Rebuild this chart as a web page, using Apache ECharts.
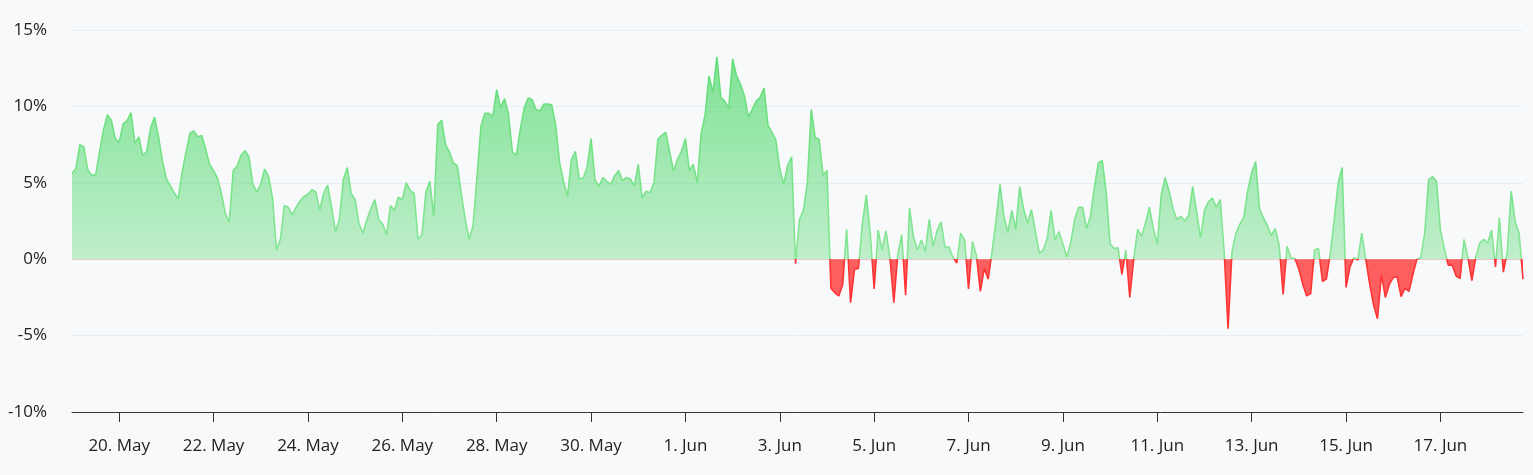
<!DOCTYPE html>
<html>
<head>
<meta charset="utf-8">
<script src="https://cdn.jsdelivr.net/npm/echarts@6/dist/echarts.min.js"></script>
<style>
  html, body { margin: 0; padding: 0; background: #f8f9fb; }
  #chart { width: 1533px; height: 475px; }
</style>
</head>
<body>
<div id="chart"></div>
<script>
// first sample: 19 May, 00:00 UTC, one sample every 2 hours
const startDate = '2024-05-19';
const stepHours = 2;

// change in % per sample, one row per day
const changePct = [
  5.6, 5.95, 7.5, 7.35, 5.85, 5.5, 5.5, 7.0, 8.45, 9.45, 9.1, 7.9,
  7.65, 8.85, 9.05, 9.6, 7.6, 8.0, 6.8, 7.05, 8.6, 9.3, 8.0, 6.45,
  5.25, 4.8, 4.35, 3.95, 5.7, 7.0, 8.25, 8.4, 8.0, 8.1, 7.2, 6.2,
  5.8, 5.3, 4.3, 3.0, 2.4, 5.8, 6.1, 6.8, 7.1, 6.7, 4.9, 4.4,
  4.9, 5.9, 5.4, 4.0, 0.6, 1.3, 3.5, 3.4, 2.9, 3.4, 3.8, 4.1,
  4.25, 4.55, 4.4, 3.2, 4.3, 4.85, 3.4, 1.8, 2.6, 5.2, 6.0, 4.3,
  3.9, 2.3, 1.7, 2.6, 3.3, 3.9, 2.6, 2.3, 1.6, 3.5, 3.2, 4.05,
  3.9, 5.0, 4.5, 4.3, 1.3, 1.6, 4.4, 5.1, 2.8, 8.8, 9.1, 7.5,
  7.0, 6.3, 6.1, 4.3, 2.6, 1.3, 2.2, 5.4, 8.7, 9.55, 9.55, 9.35,
  11.1, 9.9, 10.5, 9.5, 7.0, 6.8, 8.5, 9.9, 10.55, 10.45, 9.8, 9.7,
  10.15, 10.15, 10.1, 8.8, 6.3, 5.1, 4.1, 6.5, 7.05, 5.25, 5.3, 6.0,
  7.9, 5.2, 4.75, 5.35, 5.1, 4.9, 5.45, 5.8, 5.15, 5.35, 5.25, 4.8,
  6.2, 4.0, 4.45, 4.35, 5.0, 7.85, 8.1, 8.3, 7.0, 5.75, 6.55, 7.05,
  7.9, 5.8, 6.2, 5.0, 8.2, 9.45, 12.0, 10.9, 13.25, 10.6, 10.35, 9.85,
  13.1, 12.0, 11.45, 10.7, 9.3, 9.8, 10.35, 10.6, 11.2, 8.75, 8.3, 7.8,
  5.9, 4.9, 6.15, 6.7, -0.3, 2.6, 3.2, 5.0, 9.8, 7.95, 7.85, 5.5,
  5.8, -1.9, -2.2, -2.4, -1.65, 1.95, -2.85, -0.65, -0.6, 2.35, 4.2, 1.7,
  -1.95, 1.9, 0.6, 1.85, 0.1, -2.85, 0.3, 1.6, -2.35, 3.35, 1.45, 0.6,
  1.25, 0.5, 2.6, 0.85, 1.85, 2.45, 0.8, 0.8, 0.15, -0.25, 1.7, 1.25,
  -1.95, 1.15, 0.25, -2.1, -0.6, -1.3, 0.55, 2.55, 4.9, 2.8, 1.75, 3.2,
  1.95, 4.75, 3.3, 2.35, 3.25, 1.8, 0.4, 0.6, 1.35, 3.2, 1.25, 1.8,
  1.0, 0.15, 1.1, 2.6, 3.4, 3.4, 2.0, 2.8, 4.7, 6.3, 6.45, 4.4,
  1.0, 0.7, 0.75, -1.0, 0.6, -2.5, 0.0, 1.95, 1.5, 2.35, 3.4, 2.0,
  1.0, 4.2, 5.35, 4.45, 3.3, 2.6, 2.8, 2.5, 2.9, 4.75, 3.1, 1.4,
  3.2, 3.75, 4.0, 3.4, 3.9, 0.5, -4.55, 0.5, 1.7, 2.3, 2.75, 4.5,
  5.65, 6.4, 3.3, 2.7, 2.2, 1.55, 2.0, 0.9, -2.3, 0.85, 0.1, 0.05,
  -0.65, -1.65, -2.4, -2.25, 0.6, 0.7, -1.45, -1.3, 0.4, 2.6, 5.0, 6.0,
  -1.85, -0.5, 0.1, -0.05, 1.7, 0.0, -1.6, -3.0, -3.9, -1.0, -2.5, -1.65,
  -1.2, -1.15, -2.45, -1.9, -2.1, -1.0, 0.0, 0.1, 1.7, 5.2, 5.4, 5.1,
  1.9, 0.7, -0.4, -0.4, -1.1, -1.25, 1.3, 0.1, -1.4, 0.15, 1.05, 1.3,
  1.05, 1.9, -0.5, 2.7, -0.85, 0.5, 4.45, 2.45, 1.7, -1.3
];

const xTickDates = [
  '2024-05-20', '2024-05-22', '2024-05-24', '2024-05-26', '2024-05-28', '2024-05-30',
  '2024-06-01', '2024-06-03', '2024-06-05', '2024-06-07', '2024-06-09', '2024-06-11',
  '2024-06-13', '2024-06-15', '2024-06-17'
];
const yMin = -10;
const yMax = 15;
const yStep = 5;
const monthNames = ['Jan', 'Feb', 'Mar', 'Apr', 'May', 'Jun', 'Jul', 'Aug', 'Sep', 'Oct', 'Nov', 'Dec'];

const font = "'Open Sans', sans-serif";
const textColor = '#222222';

// x is hours since the first sample
const HOUR = 3600 * 1000;
const t0 = new Date(startDate + 'T00:00:00Z').getTime();
const seriesData = changePct.map((v, i) => [i * stepHours, v]);
const tickValues = xTickDates.map((d) => (new Date(d + 'T00:00:00Z').getTime() - t0) / HOUR);

const chart = echarts.init(document.getElementById('chart'));
chart.setOption({
  backgroundColor: '#f8f9fb',
  animation: false,
  grid: { left: 72, right: 10, top: 30, bottom: 63 },
  xAxis: {
    type: 'value',
    min: 0,
    max: seriesData[seriesData.length - 1][0],
    axisLine: { onZero: false, lineStyle: { color: '#333333', width: 1 } },
    axisTick: { show: true, length: 10, customValues: tickValues, lineStyle: { color: '#333333' } },
    splitLine: { show: false },
    axisLabel: {
      customValues: tickValues,
      margin: 26,
      color: textColor,
      fontFamily: font,
      fontSize: 17,
      formatter: (val) => {
        const d = new Date(t0 + val * HOUR);
        return d.getUTCDate() + '. ' + monthNames[d.getUTCMonth()];
      },
    },
  },
  yAxis: {
    type: 'value',
    min: yMin,
    max: yMax,
    interval: yStep,
    axisLine: { show: false },
    axisTick: { show: false },
    splitLine: { lineStyle: { color: '#e6edf6', width: 1 } },
    axisLabel: {
      margin: 25,
      color: textColor,
      fontFamily: font,
      fontSize: 17,
      formatter: '{value}%',
    },
  },
  series: [
    {
      type: 'line',
      data: seriesData,
      showSymbol: false,
      symbol: 'none',
      lineStyle: { width: 1.6 },
      areaStyle: { opacity: 1 },
    },
  ],
});

// colour above / below zero, gradient in pixel space of the plot
const yTop = chart.convertToPixel({ yAxisIndex: 0 }, yMax);
const yZero = chart.convertToPixel({ yAxisIndex: 0 }, 0);
const yBot = chart.convertToPixel({ yAxisIndex: 0 }, yMin);
const f = (yZero - yTop) / (yBot - yTop);

chart.setOption({
  series: [
    {
      lineStyle: {
        color: new echarts.graphic.LinearGradient(0, yTop, 0, yBot, [
          { offset: 0, color: '#5edd73' },
          { offset: f, color: '#86e696' },
          { offset: f, color: '#ff3434' },
          { offset: 1, color: '#ff3434' },
        ], true),
      },
      areaStyle: {
        color: new echarts.graphic.LinearGradient(0, yTop, 0, yBot, [
          { offset: 0, color: 'rgba(70, 215, 100, 0.72)' },
          { offset: f, color: 'rgba(70, 215, 100, 0.32)' },
          { offset: f, color: 'rgba(255, 40, 40, 0.74)' },
          { offset: 1, color: 'rgba(255, 40, 40, 0.74)' },
        ], true),
      },
    },
  ],
});
</script>
</body>
</html>
